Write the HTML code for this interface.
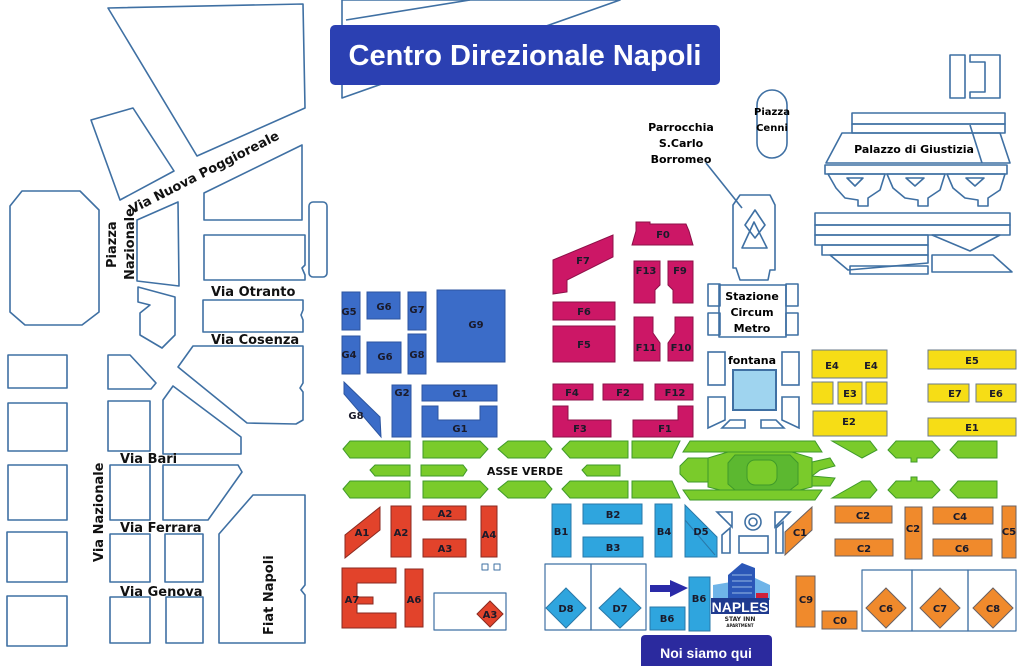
<!DOCTYPE html>
<html><head><meta charset="utf-8"><style>
html,body{margin:0;padding:0;background:#fff;}
svg{display:block;}
text{font-family:"DejaVu Sans","Liberation Sans",sans-serif;font-weight:bold;}
.o{fill:none;stroke:#3f70a3;stroke-width:1.6;stroke-linejoin:round;}
.w{fill:#fff;stroke:#3f70a3;stroke-width:1.6;}
.g{fill:#3b6cc8;stroke:#2c55a0;stroke-width:1;}
.m{fill:#cc1766;stroke:#8c1048;stroke-width:1;}
.y{fill:#f6dd16;stroke:#6a7a88;stroke-width:1;}
.c{fill:#f08a2c;stroke:#6a6060;stroke-width:1;}
.r{fill:#e2432b;stroke:#8a2a20;stroke-width:1;}
.b{fill:#2fa5de;stroke:#2a78a8;stroke-width:1;}
.v{fill:#7acb2b;stroke:#3f9a2a;stroke-width:1;}
.l{font-size:10px;fill:#1a1a2a;text-anchor:middle;}
.s{font-size:13px;fill:#111;}
</style></head><body>
<svg width="1024" height="666" viewBox="0 0 1024 666" xmlns="http://www.w3.org/2000/svg">
<!-- top outlines -->
<polygon class="o" points="108,8 303,4 305,108 197,156"/>
<polygon class="o" points="342,0 342,98 620,0"/>
<line class="o" x1="346" y1="20" x2="470" y2="0"/>
<polygon class="o" points="91,120 133,108 174,171 120,200"/>
<polygon class="o" points="22,191 80,191 99,210 99,312 82,325 25,325 10,312 10,206"/>
<polygon class="o" points="137,220 178,202 179,286 137,281"/>
<polygon class="o" points="204,193 302,145 302,220 204,220"/>
<polygon class="o" points="204,235 305,235 305,265 302,268 305,275 305,280 204,280"/>
<rect class="o" x="309" y="202" width="18" height="75" rx="4"/>
<polygon class="o" points="138,287 175,297 175,335 162,348 140,335 140,313 150,305 138,302"/>
<polygon class="o" points="203,300 303,300 303,310 301,315 303,320 303,332 203,332"/>
<polygon class="o" points="178,367 193,346 303,346 303,383 300,388 303,392 303,420 296,424 247,423"/>
<!-- bottom-left blocks -->
<rect class="o" x="8" y="355" width="59" height="33"/>
<rect class="o" x="8" y="403" width="59" height="48"/>
<rect class="o" x="8" y="465" width="59" height="55"/>
<rect class="o" x="7" y="532" width="60" height="50"/>
<rect class="o" x="7" y="596" width="60" height="50"/>
<polygon class="o" points="108,355 130,355 156,383 151,389 108,389"/>
<rect class="o" x="108" y="401" width="42" height="50"/>
<rect class="o" x="110" y="465" width="40" height="55"/>
<rect class="o" x="110" y="534" width="40" height="48"/>
<rect class="o" x="110" y="597" width="40" height="46"/>
<rect class="o" x="165" y="534" width="38" height="48"/>
<rect class="o" x="166" y="597" width="37" height="46"/>
<polygon class="o" points="163,400 173,386 241,437 241,454 163,454"/>
<polygon class="o" points="163,465 238,465 242,472 208,520 163,520"/>
<polygon class="o" points="219,534 253,495 305,495 305,585 301,590 305,595 305,643 219,643"/>
<!-- street labels -->
<text class="s" transform="translate(132,214) rotate(-27)" style="font-size:13px">Via Nuova Poggioreale</text>
<text class="s" transform="translate(116,268) rotate(-90)">Piazza</text>
<text class="s" transform="translate(134,280) rotate(-90)">Nazionale</text>
<text class="s" x="211" y="296">Via Otranto</text>
<text class="s" x="211" y="344">Via Cosenza</text>
<text class="s" x="120" y="463">Via Bari</text>
<text class="s" x="120" y="532">Via Ferrara</text>
<text class="s" x="120" y="596">Via Genova</text>
<text class="s" transform="translate(103,562) rotate(-90)">Via Nazionale</text>
<text class="s" transform="translate(273,635) rotate(-90)">Fiat Napoli</text>
<!-- title -->
<rect x="330" y="25" width="390" height="60" rx="5" fill="#2b40b2"/>
<text x="525" y="65" text-anchor="middle" style="font-family:'Liberation Sans',sans-serif;font-size:29px;fill:#fff">Centro Direzionale Napoli</text>
<!-- top right -->
<polygon class="o" points="950,55 965,55 965,98 950,98"/>
<polygon class="o" points="970,55 1000,55 1000,98 970,98 970,92 985,92 985,62 970,62"/>
<rect class="o" x="757" y="90" width="30" height="68" rx="15"/>
<text x="772" y="115" text-anchor="middle" style="font-size:10px">Piazza</text>
<text x="772" y="131" text-anchor="middle" style="font-size:10px">Cenni</text>
<text x="681" y="131" text-anchor="middle" style="font-size:11px">Parrocchia</text>
<text x="681" y="147" text-anchor="middle" style="font-size:11px">S.Carlo</text>
<text x="681" y="163" text-anchor="middle" style="font-size:11px">Borromeo</text>
<line class="o" x1="706" y1="163" x2="742" y2="208"/>
<polygon class="o" points="740,195 770,195 775,205 775,270 770,270 768,280 740,280 736,268 733,268 733,205"/>
<polygon class="o" points="745,225 755,210 765,225 755,238"/>
<polygon class="o" points="742,248 754,222 767,248"/>
<rect class="o" x="708" y="284" width="12" height="22"/><rect class="o" x="708" y="313" width="12" height="22"/>
<rect class="o" x="786" y="284" width="12" height="22"/><rect class="o" x="786" y="313" width="12" height="22"/>
<rect class="o" x="719" y="285" width="67" height="52"/>
<text x="752" y="300" text-anchor="middle" style="font-size:11px">Stazione</text>
<text x="752" y="316" text-anchor="middle" style="font-size:11px">Circum</text>
<text x="752" y="332" text-anchor="middle" style="font-size:11px">Metro</text>
<!-- palazzo -->
<rect class="o" x="852" y="113" width="153" height="11"/>
<rect class="o" x="852" y="124" width="153" height="9"/>
<polygon class="o" points="842,133 1000,133 1010,163 826,163"/>
<line class="o" x1="970" y1="125" x2="982" y2="163"/>
<text x="914" y="153" text-anchor="middle" style="font-size:11px">Palazzo di Giustizia</text>
<rect class="o" x="825" y="165" width="182" height="9"/>
<g class="o">
<path d="M828,174 L885,174 L880,190 L868,198 L868,206 L858,206 L858,200 L845,198 L836,188 Z"/>
<path d="M847,178 L863,178 L855,186 Z"/>
<path d="M887,174 L945,174 L940,190 L928,198 L928,206 L918,206 L918,200 L905,198 L893,188 Z"/>
<path d="M906,178 L924,178 L915,186 Z"/>
<path d="M947,174 L1005,174 L1000,190 L988,198 L988,206 L978,206 L978,200 L965,198 L953,188 Z"/>
<path d="M966,178 L984,178 L975,186 Z"/>
</g>
<rect class="o" x="815" y="213" width="195" height="12"/>
<rect class="o" x="815" y="225" width="195" height="10"/>
<rect class="o" x="815" y="235" width="113" height="10"/>
<rect class="o" x="822" y="245" width="106" height="10"/>
<polygon class="o" points="830,255 928,255 928,263 848,270"/>
<rect class="o" x="850" y="266" width="78" height="8"/>
<polygon class="o" points="932,235 1000,235 970,251"/>
<polygon class="o" points="932,255 993,255 1012,272 932,272"/>
<!-- G blue -->
<rect class="g" x="342" y="292" width="18" height="38"/><text class="l" x="349" y="315">G5</text>
<rect class="g" x="367" y="292" width="33" height="27"/><text class="l" x="384" y="310">G6</text>
<rect class="g" x="408" y="292" width="18" height="38"/><text class="l" x="417" y="313">G7</text>
<rect class="g" x="342" y="336" width="18" height="38"/><text class="l" x="349" y="358">G4</text>
<rect class="g" x="367" y="342" width="34" height="31"/><text class="l" x="385" y="360">G6</text>
<rect class="g" x="408" y="334" width="18" height="40"/><text class="l" x="417" y="358">G8</text>
<rect class="g" x="437" y="290" width="68" height="72"/><text class="l" x="476" y="328">G9</text>
<polygon class="g" points="344,382 380,417 381,437 344,394"/><text class="l" x="356" y="419">G8</text>
<rect class="g" x="392" y="385" width="19" height="52"/><text class="l" x="402" y="396">G2</text>
<rect class="g" x="422" y="385" width="75" height="16"/><text class="l" x="460" y="397">G1</text>
<polygon class="g" points="422,406 438,406 438,420 480,420 480,406 497,406 497,437 422,437"/><text class="l" x="460" y="432">G1</text>
<!-- F magenta -->
<polygon class="m" points="553,260 613,235 613,257 567,280 567,292 553,294"/><text class="l" x="583" y="264">F7</text>
<polygon class="m" points="632,245 636,231 636,222 650,222 650,224 686,224 689,231 693,245"/><text class="l" x="663" y="238">F0</text>
<polygon class="m" points="634,261 660,261 660,285 655,290 655,303 634,303"/><text class="l" x="646" y="274">F13</text>
<polygon class="m" points="668,261 693,261 693,303 673,303 673,290 668,285"/><text class="l" x="680" y="274">F9</text>
<rect class="m" x="553" y="302" width="62" height="18"/><text class="l" x="584" y="315">F6</text>
<rect class="m" x="553" y="326" width="62" height="36"/><text class="l" x="584" y="348">F5</text>
<polygon class="m" points="634,317 653,317 653,333 660,343 660,361 634,361"/><text class="l" x="646" y="351">F11</text>
<polygon class="m" points="675,317 693,317 693,361 668,361 668,343 675,333"/><text class="l" x="681" y="351">F10</text>
<rect class="m" x="553" y="384" width="40" height="16"/><text class="l" x="572" y="396">F4</text>
<rect class="m" x="603" y="384" width="40" height="16"/><text class="l" x="623" y="396">F2</text>
<rect class="m" x="655" y="384" width="38" height="16"/><text class="l" x="675" y="396">F12</text>
<polygon class="m" points="553,406 568,406 568,420 611,420 611,437 553,437"/><text class="l" x="580" y="432">F3</text>
<polygon class="m" points="678,406 693,406 693,437 633,437 633,420 678,420"/><text class="l" x="665" y="432">F1</text>
<!-- fontana -->
<rect class="w" x="708" y="352" width="17" height="33"/>
<rect class="w" x="782" y="352" width="17" height="33"/>
<text x="752" y="364" text-anchor="middle" style="font-size:11px">fontana</text>
<rect x="733" y="370" width="43" height="40" fill="#9fd4ef" stroke="#3f70a3" stroke-width="2"/>
<polygon class="w" points="708,397 725,397 725,420 708,428"/>
<polygon class="w" points="782,397 799,397 799,428 782,420"/>
<polygon class="w" points="722,428 730,420 745,420 745,428"/>
<polygon class="w" points="761,420 776,420 784,428 761,428"/>
<!-- E yellow -->
<rect class="y" x="812" y="350" width="75" height="28"/><text class="l" x="832" y="369">E4</text><text class="l" x="871" y="369">E4</text>
<rect class="y" x="812" y="382" width="21" height="22"/>
<rect class="y" x="838" y="382" width="24" height="22"/><text class="l" x="850" y="397">E3</text>
<rect class="y" x="866" y="382" width="21" height="22"/>
<rect class="y" x="813" y="411" width="74" height="25"/><text class="l" x="849" y="425">E2</text>
<rect class="y" x="928" y="350" width="88" height="19"/><text class="l" x="972" y="364">E5</text>
<rect class="y" x="928" y="384" width="41" height="18"/><text class="l" x="955" y="397">E7</text>
<rect class="y" x="976" y="384" width="40" height="18"/><text class="l" x="996" y="397">E6</text>
<rect class="y" x="928" y="418" width="88" height="18"/><text class="l" x="972" y="431">E1</text>
<!-- green axis -->
<polygon class="v" points="343,449 350,441 410,441 410,458 350,458"/>
<polygon class="v" points="423,441 480,441 488,449 480,458 423,458"/>
<polygon class="v" points="498,449 508,441 545,441 552,449 545,458 508,458"/>
<polygon class="v" points="562,449 570,441 628,441 628,458 570,458"/>
<polygon class="v" points="632,441 680,441 672,458 632,458"/>
<polygon class="v" points="370,470 375,465 410,465 410,476 375,476"/>
<polygon class="v" points="421,465 463,465 467,470 463,476 421,476"/>
<polygon class="v" points="582,470 587,465 620,465 620,476 587,476"/>
<polygon class="v" points="343,489 350,481 410,481 410,498 350,498"/>
<polygon class="v" points="423,481 480,481 488,489 480,498 423,498"/>
<polygon class="v" points="498,489 508,481 545,481 552,489 545,498 508,498"/>
<polygon class="v" points="562,489 570,481 628,481 628,498 570,498"/>
<polygon class="v" points="632,481 672,481 680,498 632,498"/>
<text x="525" y="475" text-anchor="middle" style="font-size:11px;fill:#111">ASSE VERDE</text>
<!-- central complex -->
<polygon class="v" points="690,441 815,441 822,452 683,452"/>
<polygon class="v" points="680,466 688,458 708,458 718,466 718,474 708,482 688,482 680,474"/>
<polygon class="v" points="708,458 728,452 792,452 812,458 812,487 792,492 728,492 708,487"/>
<polygon fill="#5cb830" stroke="#3f9a2a" points="735,455 790,455 798,463 798,484 790,490 735,490 728,484 728,463"/>
<rect fill="#7acb2b" stroke="#3f9a2a" x="747" y="460" width="30" height="25" rx="8"/>
<polygon class="v" points="812,462 830,458 835,466 820,470 812,476"/>
<polygon class="v" points="812,476 835,478 830,486 812,486"/>
<polygon class="v" points="683,490 822,490 815,500 690,500"/>
<!-- right greens -->
<polygon class="v" points="832,441 870,441 877,450 862,458"/>
<polygon class="v" points="888,450 896,441 932,441 940,450 932,458 917,458 917,462 911,462 911,458 896,458"/>
<polygon class="v" points="950,450 958,441 997,441 997,458 958,458"/>
<polygon class="v" points="832,498 862,481 870,481 877,490 870,498"/>
<polygon class="v" points="888,490 896,481 911,481 911,477 917,477 917,481 932,481 940,490 932,498 896,498"/>
<polygon class="v" points="950,490 958,481 997,481 997,498 958,498"/>
<!-- below central -->
<polygon class="w" points="717,512 732,512 732,527"/>
<polygon class="w" points="775,512 790,512 775,527"/>
<circle cx="753" cy="522" r="8" class="o"/><circle cx="753" cy="522" r="4" class="o"/>
<polygon class="w" points="722,535 730,528 730,553 722,553"/>
<rect class="w" x="739" y="536" width="29" height="17"/>
<polygon class="w" points="776,528 783,522 783,553 776,553"/>
<!-- A red -->
<polygon class="r" points="380,507 380,530 345,558 345,535"/><text class="l" x="362" y="536">A1</text>
<rect class="r" x="391" y="506" width="20" height="51"/><text class="l" x="401" y="536">A2</text>
<rect class="r" x="423" y="506" width="43" height="14"/><text class="l" x="445" y="517">A2</text>
<rect class="r" x="423" y="539" width="43" height="18"/><text class="l" x="445" y="552">A3</text>
<rect class="r" x="481" y="506" width="16" height="51"/><text class="l" x="489" y="538">A4</text>
<rect class="o" x="482" y="564" width="6" height="6" style="stroke-width:1"/><rect class="o" x="494" y="564" width="6" height="6" style="stroke-width:1"/>
<polygon class="r" points="342,568 396,568 396,583 357,583 357,597 373,597 373,604 357,604 357,613 396,613 396,628 342,628"/><text class="l" x="352" y="603">A7</text>
<rect class="r" x="405" y="569" width="18" height="58"/><text class="l" x="414" y="603">A6</text>
<rect class="o" x="434" y="593" width="72" height="37" style="stroke-width:1.2"/>
<polygon class="r" points="490,601 503,614 490,627 477,614"/><text class="l" x="490" y="618">A3</text>
<!-- B cyan -->
<rect class="b" x="552" y="504" width="19" height="53"/><text class="l" x="561" y="535">B1</text>
<rect class="b" x="583" y="504" width="59" height="20"/><text class="l" x="613" y="518">B2</text>
<rect class="b" x="583" y="537" width="60" height="20"/><text class="l" x="613" y="551">B3</text>
<rect class="b" x="655" y="504" width="17" height="53"/><text class="l" x="664" y="535">B4</text>
<polygon class="b" points="685,505 717,537 717,557 685,557"/><line x1="685" y1="520" x2="715" y2="555" stroke="#2a78a8"/><text class="l" x="701" y="535">D5</text>
<rect class="o" x="545" y="564" width="46" height="66" style="stroke-width:1.2"/>
<rect class="o" x="591" y="564" width="55" height="66" style="stroke-width:1.2"/>
<polygon class="b" points="566,588 586,608 566,628 546,608"/><text class="l" x="566" y="612">D8</text>
<polygon class="b" points="620,588 641,608 620,628 599,608"/><text class="l" x="620" y="612">D7</text>
<rect class="b" x="689" y="577" width="21" height="54"/><text class="l" x="699" y="602">B6</text>
<rect class="b" x="650" y="607" width="35" height="23"/><text class="l" x="667" y="622">B6</text>
<rect x="650" y="585" width="22" height="7" fill="#2a2aa8"/><polygon points="670,580 688,588 670,597" fill="#2a2aa8"/>
<!-- logo -->
<polygon points="713,600 770,600 770,585 755,578 713,585" fill="#6fb4e8"/>
<polygon points="728,575 742,563 755,568 755,605 728,605" fill="#2b57b8"/>
<g stroke="#bcd8f5" stroke-width="0.8"><line x1="732" y1="575" x2="752" y2="575"/><line x1="732" y1="581" x2="752" y2="581"/><line x1="732" y1="587" x2="752" y2="587"/><line x1="732" y1="593" x2="752" y2="593"/></g>
<rect x="756" y="593" width="12" height="6" fill="#d0203a"/>
<rect x="711" y="598" width="58" height="16" fill="#1e3a8f"/>
<text x="740" y="612" text-anchor="middle" style="font-family:'Liberation Sans',sans-serif;font-size:14px;fill:#fff">NAPLES</text>
<text x="740" y="621" text-anchor="middle" style="font-size:6px;fill:#222">STAY INN</text>
<text x="740" y="627" text-anchor="middle" style="font-size:4px;fill:#222">APARTMENT</text>
<!-- C orange -->
<polygon class="c" points="812,507 812,530 785,555 785,532"/><text class="l" x="800" y="536">C1</text>
<rect class="c" x="835" y="506" width="57" height="17"/><text class="l" x="863" y="519">C2</text>
<rect class="c" x="835" y="539" width="58" height="17"/><text class="l" x="864" y="552">C2</text>
<rect class="c" x="905" y="507" width="17" height="52"/><text class="l" x="913" y="532">C2</text>
<rect class="c" x="933" y="507" width="60" height="17"/><text class="l" x="960" y="520">C4</text>
<rect class="c" x="933" y="539" width="59" height="17"/><text class="l" x="962" y="552">C6</text>
<rect class="c" x="1002" y="506" width="14" height="52"/><text class="l" x="1009" y="535">C5</text>
<rect class="c" x="796" y="576" width="19" height="51"/><text class="l" x="806" y="603">C9</text>
<rect class="c" x="822" y="611" width="35" height="18"/><text class="l" x="840" y="624">C0</text>
<rect class="o" x="862" y="570" width="50" height="61" style="stroke-width:1.2"/>
<rect class="o" x="912" y="570" width="56" height="61" style="stroke-width:1.2"/>
<rect class="o" x="968" y="570" width="48" height="61" style="stroke-width:1.2"/>
<polygon class="c" points="886,588 906,608 886,628 866,608"/><text class="l" x="886" y="612">C6</text>
<polygon class="c" points="940,588 960,608 940,628 920,608"/><text class="l" x="940" y="612">C7</text>
<polygon class="c" points="993,588 1013,608 993,628 973,608"/><text class="l" x="993" y="612">C8</text>
<!-- noi siamo qui -->
<rect x="641" y="635" width="131" height="35" rx="4" fill="#2b2a9e"/>
<text x="706" y="658" text-anchor="middle" style="font-family:'Liberation Sans',sans-serif;font-size:14px;fill:#fff">Noi siamo qui</text>
</svg>
</body></html>
